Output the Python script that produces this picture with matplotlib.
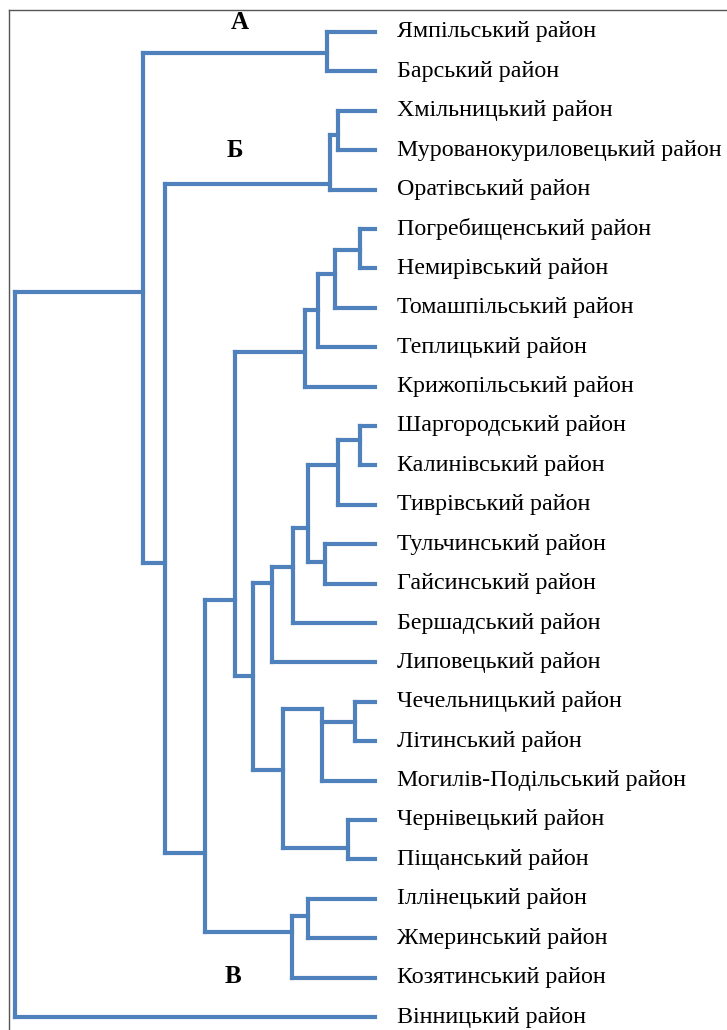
import numpy as np
import matplotlib.pyplot as plt
from matplotlib.lines import Line2D

# leaves, top to bottom
districts = [
    "Ямпільський район", "Барський район", "Хмільницький район",
    "Мурованокуриловецький район", "Оратівський район",
    "Погребищенський район", "Немирівський район", "Томашпільський район",
    "Теплицький район", "Крижопільський район", "Шаргородський район",
    "Калинівський район", "Тиврівський район", "Тульчинський район",
    "Гайсинський район", "Бершадський район", "Липовецький район",
    "Чечельницький район", "Літинський район", "Могилів-Подільський район",
    "Чернівецький район", "Піщанський район", "Іллінецький район",
    "Жмеринський район", "Козятинський район", "Вінницький район",
]

# internal nodes: children (leaf index as int, node name as str), distance,
# and junction position in leaf units (where the link to the parent leaves)
node_names = ["n1", "n2", "n3", "n4", "n5", "n6", "n7", "n8", "n9", "n10",
              "n11", "n12", "n13", "n14", "n15", "n16", "n17", "n18", "n19",
              "n20", "n21", "n22", "n23", "n24", "root"]
node_children = [
    (0, 1), (2, 3), ("n2", 4), (5, 6), ("n4", 7), ("n5", 8), ("n6", 9),
    (10, 11), ("n8", 12), (13, 14), ("n9", "n10"), ("n11", 15), ("n12", 16),
    (17, 18), ("n14", 19), (20, 21), ("n15", "n16"), ("n13", "n17"),
    ("n7", "n18"), (22, 23), ("n20", 24), ("n19", "n21"), ("n3", "n22"),
    ("n1", "n23"), ("n24", 25),
]
node_dist = [13.3, 10.3, 12.5, 4.2, 11.1, 15.8, 19.4,
             4.2, 10.3, 13.9, 18.6, 22.8, 28.6,
             5.6, 14.7, 7.5, 25.6, 33.9,
             38.9, 18.6, 23.1, 47.2, 58.3,
             64.4, 100.0]
node_junction = [0.53, 2.61, 3.86, 5.53, 6.14, 7.05, 8.12,
                 10.36, 11.0, 13.45, 12.59, 13.58, 13.98,
                 17.51, 17.19, 20.71, 18.73, 16.35,
                 14.42, 22.44, 22.84, 20.84, 13.48,
                 6.6, 12.5]

group_labels = ["А", "Б", "В"]

blue = "#4F81BD"
W, H = 727, 1030

fig = plt.figure(figsize=(W / 100, H / 100), dpi=100)
ax = fig.add_axes([0, 0, 1, 1])
ax.set_axis_off()

# px scale: distance 0 at x=375, 100 at x=15; leaf 0 at y=32, leaf 25 at y=1017
px_per_d = 3.6
px_per_leaf = (1017 - 32) / 25
ax.set_xlim(375 / px_per_d, -(W - 375) / px_per_d)
ax.set_ylim((H - 32) / px_per_leaf, -32 / px_per_leaf)

pos = {}
for name, d, j in zip(node_names, node_dist, node_junction):
    pos[name] = (d, j)


def where(c):
    if isinstance(c, str):
        return pos[c]
    return (0.0, float(c))


lw = 3.0
for name, (a, b), d, j in zip(node_names, node_children, node_dist, node_junction):
    xa, ya = where(a)
    xb, yb = where(b)
    ax.plot([xa, d], [ya, ya], color=blue, lw=lw, solid_capstyle="projecting")
    ax.plot([xb, d], [yb, yb], color=blue, lw=lw, solid_capstyle="projecting")
    ys = [ya, yb] if name == "root" else [ya, yb, j]
    ax.plot([d, d], [min(ys), max(ys)], color=blue, lw=lw,
            solid_capstyle="projecting")

for i, lab in enumerate(districts):
    ax.text(-22 / px_per_d, i, lab, ha="left", va="center",
            fontsize=17.3, family="Liberation Serif")

# group letters
ax.text(37.5, -0.25, group_labels[0], ha="center", va="center",
        fontsize=18, fontweight="bold", family="Liberation Serif")
ax.text(38.9, 3.0, group_labels[1], ha="center", va="center",
        fontsize=18, fontweight="bold", family="Liberation Serif")
ax.text(39.4, 23.98, group_labels[2], ha="center", va="center",
        fontsize=18, fontweight="bold", family="Liberation Serif")

# frame (only top and left visible)
fx, fy = 9 / W, 1 - 10 / H
fig.add_artist(Line2D([fx, 1.0], [fy, fy], color="#555555", lw=1.0))
fig.add_artist(Line2D([fx, fx], [0.0, fy], color="#555555", lw=1.0))

fig.savefig("out.png", dpi=100)
